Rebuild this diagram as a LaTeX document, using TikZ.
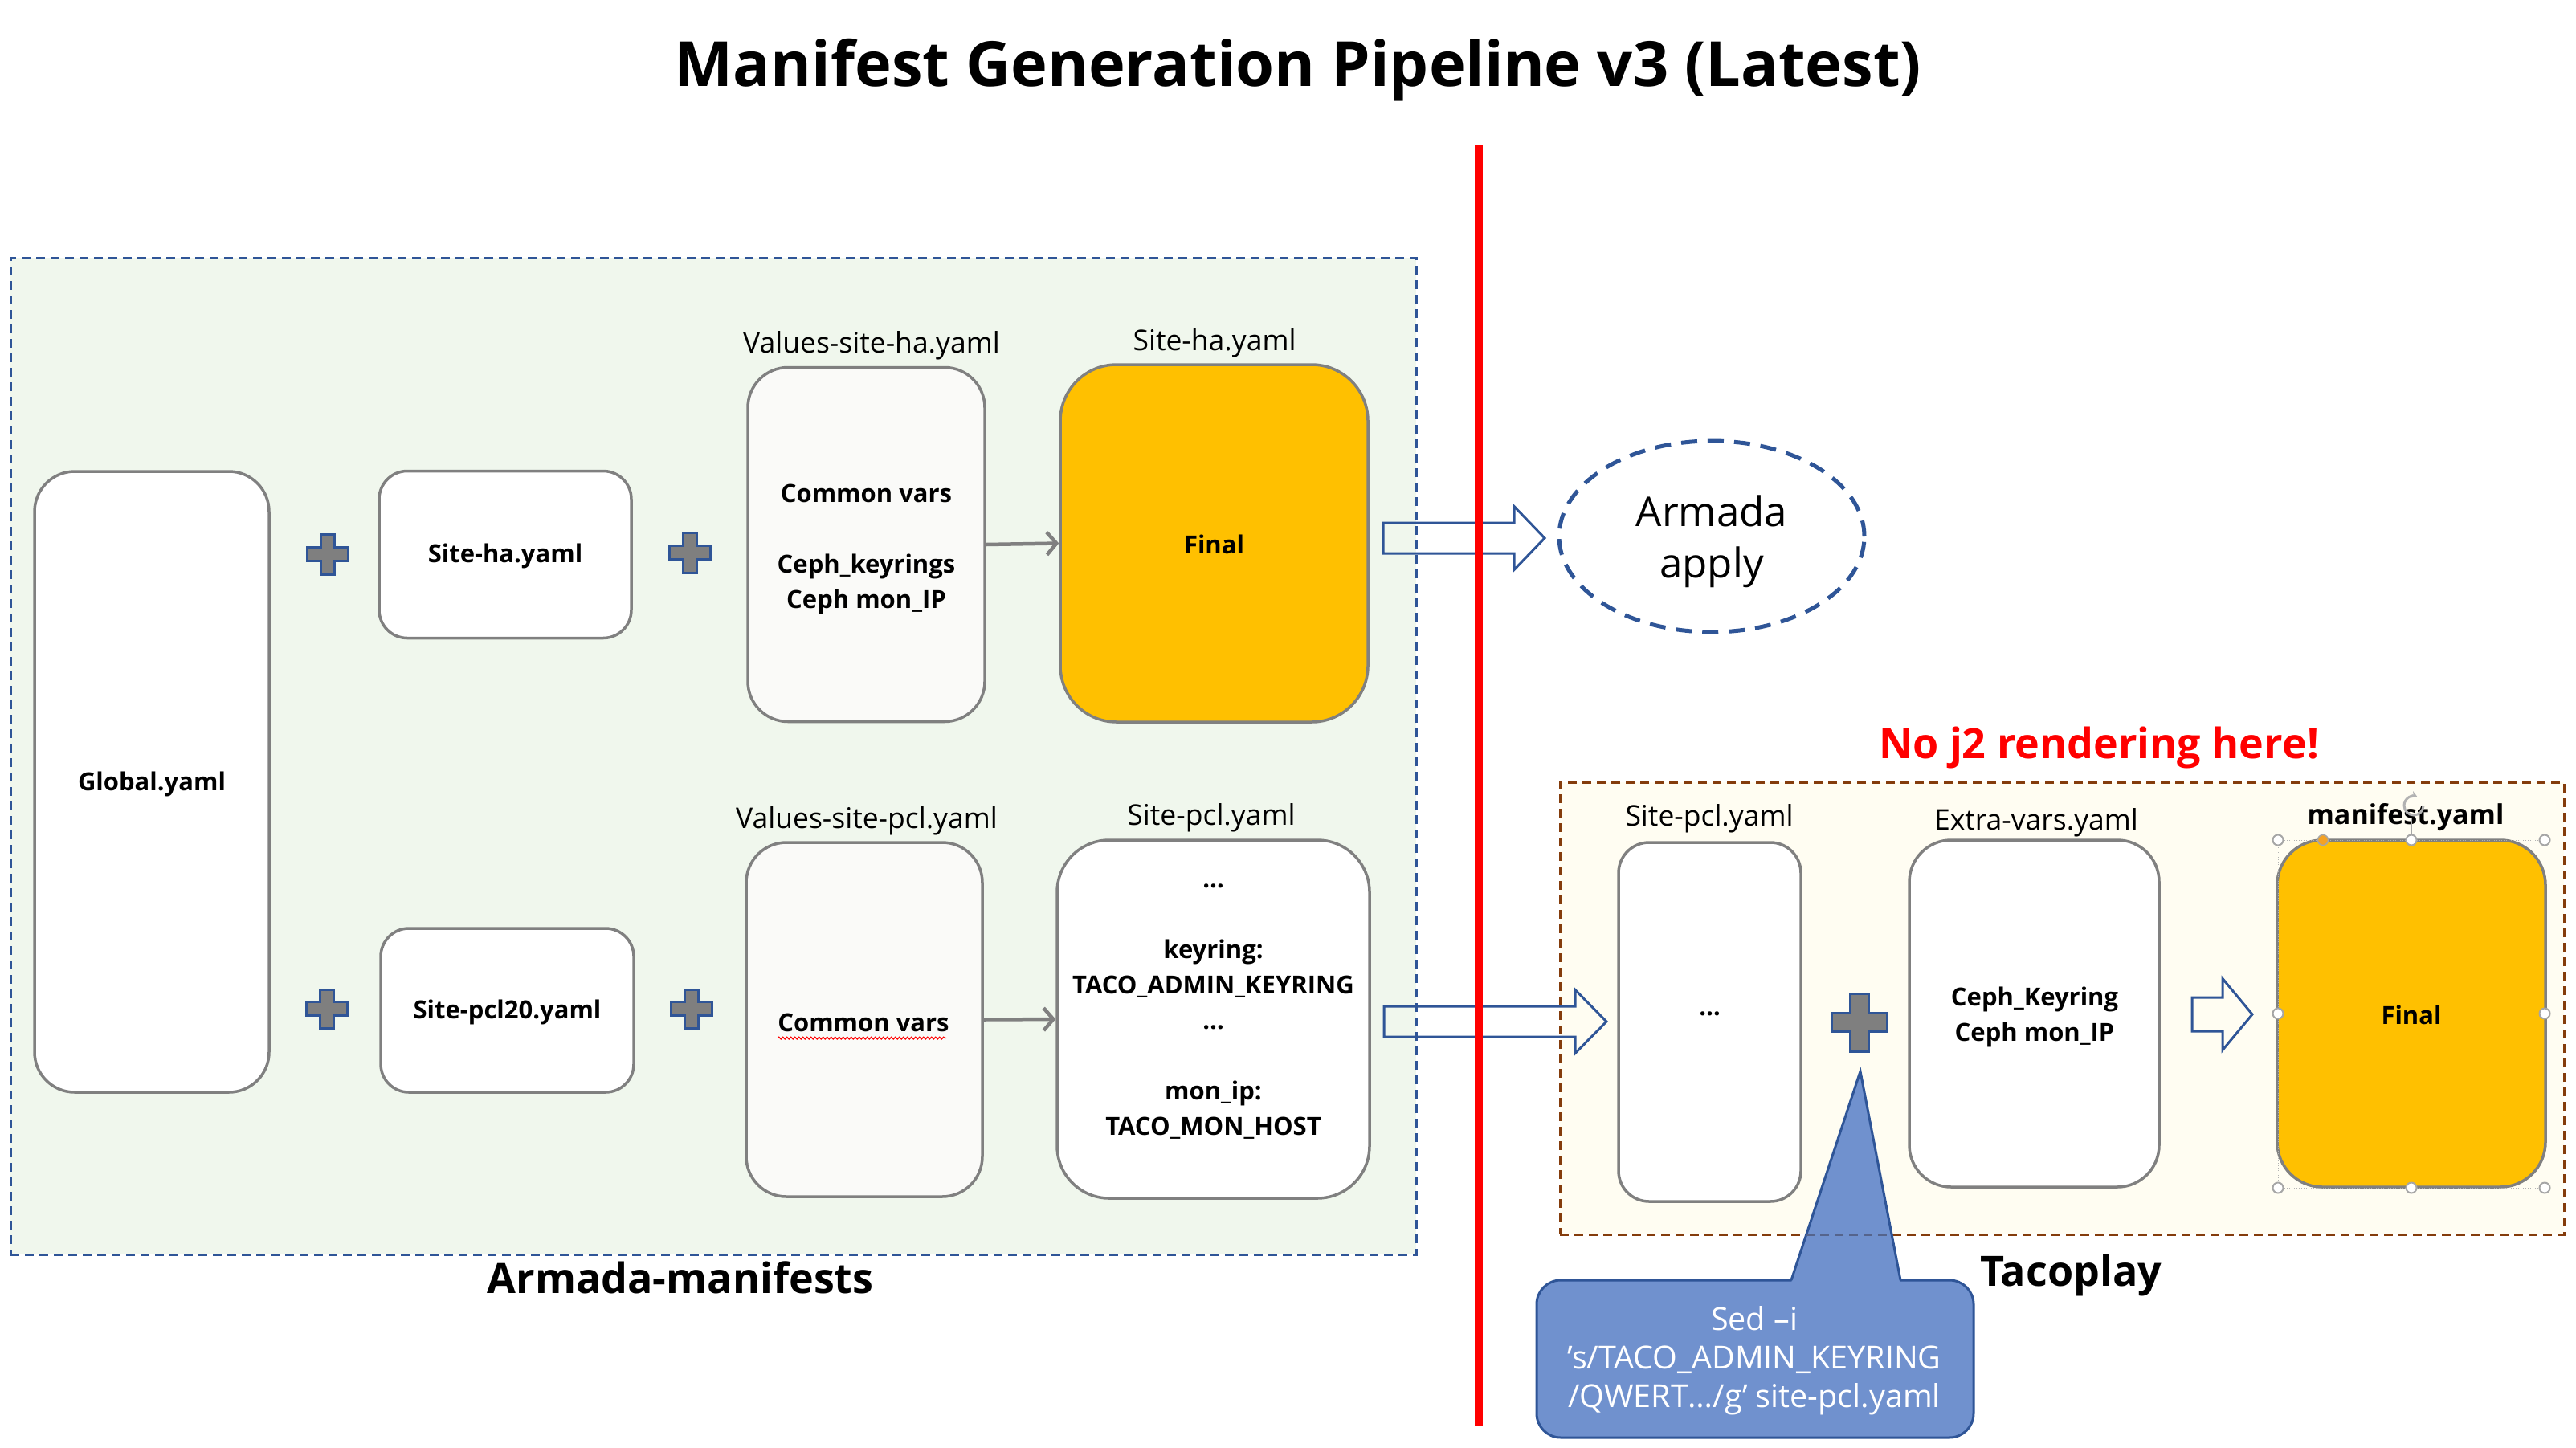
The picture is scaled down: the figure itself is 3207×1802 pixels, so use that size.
\documentclass[tikz,border=0pt]{standalone}
\usepackage{fontspec}
\setmainfont{Open Sans}
\usetikzlibrary{arrows.meta,decorations.pathmorphing,shapes.geometric}
\definecolor{dblue}{HTML}{2F5597}
\definecolor{dbrown}{HTML}{843C0C}
\definecolor{boxgray}{HTML}{808080}
\definecolor{greenbg}{RGB}{240,247,237}
\definecolor{creambg}{RGB}{255,253,242}
\definecolor{valbg}{RGB}{250,250,248}
\definecolor{gold}{HTML}{FFC000}
\definecolor{callfill}{RGB}{112,145,206}
\definecolor{plusgray}{HTML}{7F7F7F}
\definecolor{mixdash}{RGB}{85,100,140}
\definecolor{handleorange}{HTML}{F4A223}
\newcommand{\drawPlus}[5]{% cx cy w h t
  \draw[plusstyle] ({#1-#5/2},{#2-#4/2}) -- ({#1+#5/2},{#2-#4/2}) -- ({#1+#5/2},{#2-#5/2}) -- ({#1+#3/2},{#2-#5/2}) -- ({#1+#3/2},{#2+#5/2}) -- ({#1+#5/2},{#2+#5/2}) -- ({#1+#5/2},{#2+#4/2}) -- ({#1-#5/2},{#2+#4/2}) -- ({#1-#5/2},{#2+#5/2}) -- ({#1-#3/2},{#2+#5/2}) -- ({#1-#3/2},{#2-#5/2}) -- ({#1-#5/2},{#2-#5/2}) -- cycle;}
\newcommand{\blockArrow}[6]{% x0 x1 tip cy hs hh
  \draw[blockstyle] (#1,{#4-#5}) -- (#2,{#4-#5}) -- (#2,{#4-#6}) -- (#3,#4) -- (#2,{#4+#6}) -- (#2,{#4+#5}) -- (#1,{#4+#5}) -- cycle;}
\begin{document}
\begin{tikzpicture}[x=1pt,y=-1pt,
  container/.style={rectangle, inner sep=0pt, outer sep=0pt, line width=3pt, dash pattern=on 11pt off 7pt},
  box/.style={rectangle, draw=boxgray, line width=3.5pt, fill=white, inner sep=0pt, rounded corners=#1},
  btxt/.style={font=\fontsize{31}{44}\selectfont\bfseries, align=center, inner sep=0pt},
  lbl/.style={font=\fontsize{35.5}{40}\selectfont, inner sep=0pt},
  plusstyle/.style={fill=plusgray, draw=dblue, line width=3pt, line join=miter},
  blockstyle/.style={draw=dblue, line width=3pt, line join=miter},
  garrow/.style={draw=boxgray, line width=4.5pt, -{Straight Barb[length=12pt,width=28pt,line width=4.5pt]}},
  handle/.style={draw=gray!70, fill=white, line width=2pt},
  bigbold/.style={font=\fontsize{52}{60}\selectfont\bfseries, inner sep=0pt}
]
\useasboundingbox (0,0) rectangle (3207,1802);
\fill[white] (0,0) rectangle (3207,1802);

% title
\node[font=\fontsize{77.5}{88}\selectfont\bfseries, inner sep=0pt] (title) at (1616,87) {Manifest Generation Pipeline v3 (Latest)};

% containers
\node[container, fill=greenbg, draw=dblue, minimum width=1750pt, minimum height=1241pt] (armada) at (888,941.5) {};
\node[container, fill=creambg, draw=dbrown, minimum width=1250pt, minimum height=563pt] (taco) at (2567,1255.5) {};
\node[bigbold] (armlbl) at (847,1591) {Armada-manifests};
\node[bigbold] (tacolbl) at (2578,1588) {Tacoplay};
\node[bigbold, text=red] (nojlbl) at (2613,931) {No j2 rendering here!};

% left column
\node[box=50pt, minimum width=292pt, minimum height=773pt] (glob) at (189,973.5) {};
\node[btxt] at (189,976) {Global.yaml};
\node[box=35pt, minimum width=314pt, minimum height=208pt] (siteha) at (629,690.5) {};
\node[btxt] at (629,692) {Site-ha.yaml};
\node[box=35pt, minimum width=315pt, minimum height=204pt] (sitepcltw) at (631.5,1258) {};
\node[btxt] at (631.5,1260) {Site-pcl20.yaml};

% values boxes
\node[box=50pt, fill=valbg, minimum width=295pt, minimum height=441pt] (valha) at (1078.5,678) {};
\node[btxt] at (1078.5,684) {Common vars\\[44pt]Ceph\_keyrings\\Ceph mon\_IP};
\node[lbl] (valhalbl) at (1085,430) {Values-site-ha.yaml};
\node[box=50pt, fill=valbg, minimum width=294pt, minimum height=441pt] (valpcl) at (1076,1269.5) {};
\node[btxt] (cvpcl) at (1075,1273) {Common vars};
\draw[red, line width=1.3pt, decorate, decoration={snake, amplitude=1.3pt, segment length=5pt}] (cvpcl.south west) ++(0,8) -- ++(210,0);
\node[lbl] (valpcllbl) at (1079,1022) {Values-site-pcl.yaml};

% final / site-pcl boxes
\node[box=70pt, fill=gold, minimum width=383pt, minimum height=445pt] (finha) at (1511.5,676.5) {};
\node[btxt] at (1511.5,678) {Final};
\node[lbl] (finhalbl) at (1512,427) {Site-ha.yaml};
\node[box=65pt, minimum width=389pt, minimum height=446pt] (sitepcl) at (1510.5,1269) {};
\node[btxt] at (1510.5,1260) {…\\[44pt]keyring:\\TACO\_ADMIN\_KEYRING\\…\\[44pt]mon\_ip:\\TACO\_MON\_HOST};
\node[lbl] (sitepcllbl) at (1508,1018) {Site-pcl.yaml};

% pluses
\drawPlus{408}{690}{51}{50}{17}
\drawPlus{859}{688}{51}{50}{17}
\drawPlus{407}{1256}{51}{48}{17}
\drawPlus{861}{1256}{51}{48}{17}

% gray arrows
\draw[garrow] (valha.east) -- (finha.west);
\draw[garrow] (valpcl.east) -- (sitepcl.west);

% tacoplay boxes
\node[box=38pt, minimum width=227pt, minimum height=447pt] (tsite) at (2128.5,1272.5) {};
\node[btxt] at (2128.5,1262) {…};
\node[lbl] (tsitelbl) at (2128,1019) {Site-pcl.yaml};
\node[box=52pt, minimum width=311pt, minimum height=432pt] (extra) at (2532.5,1262) {};
\node[btxt] at (2533,1266) {Ceph\_Keyring\\Ceph mon\_IP};
\node[lbl] (extralbl) at (2535,1024) {Extra-vars.yaml};
\node[box=56pt, fill=gold, minimum width=334pt, minimum height=432pt] (mani) at (3002,1262) {};
\node[btxt] at (3002,1264) {Final};
\node[font=\fontsize{34}{40}\selectfont\bfseries, inner sep=0pt] (manilbl) at (2995,1018) {manifest.yaml};
\drawPlus{2315}{1273}{69}{72}{23}

% selection handles on manifest box
\draw[gray!60, line width=1pt, dotted] (2836,1046) rectangle (3168,1479);
\draw[gray!70, line width=1.5pt] (3002,1040) -- (3002,1018);
\draw[gray!60, line width=3pt, -{Stealth[length=7pt,width=9pt]}] (3017,1003) arc[start angle=0, end angle=290, radius=12];
\foreach \hx/\hy in {2836/1046,3002/1046,3168/1046,2836/1262,3168/1262,2836/1479,3002/1479,3168/1479}
  \draw[handle] (\hx,\hy) circle[radius=6.5];
\draw[draw=gray!70, fill=handleorange, line width=1.5pt] (2892,1046) circle[radius=6.5];

% block arrows
\blockArrow{1722}{1885}{1923}{670}{19}{39.5}
\blockArrow{1723}{1961}{2000}{1272}{19}{39.5}
\blockArrow{2729}{2767}{2804}{1263}{21}{44.5}

% red separator
\draw[red, line width=10pt] (1841,180) -- (1841,1775);

% ellipse
\node[ellipse, draw=dblue, line width=5pt, dash pattern=on 20pt off 13pt, minimum width=380pt, minimum height=238pt, inner sep=0pt] (apply) at (2131,668) {};
\node[font=\fontsize{51}{64}\selectfont, align=center, inner sep=0pt] at (2131,674) {Armada\\apply};

% callout
\node[rectangle, rounded corners=30pt, fill=callfill, draw=dblue, line width=3pt, minimum width=544pt, minimum height=196pt, inner sep=0pt] (sed) at (2185,1692) {};
\coordinate (tip) at (2316,1334);
\fill[callfill] (2230,1597) -- (tip) -- (2366,1597) -- cycle;
\draw[dblue, line width=3pt, line join=miter] (2230,1594) -- (tip) -- (2366,1594);
\begin{scope}
  \clip (2232,1590) -- (tip) -- (2364,1590) -- cycle;
  \draw[mixdash, line width=3pt, dash pattern=on 11pt off 7pt] (1942,1537) -- (3192,1537);
\end{scope}
\node[font=\fontsize{39.5}{48}\selectfont, text=white, align=center, inner sep=0pt] at (2184,1694) {Sed –i\\’s/TACO\_ADMIN\_KEYRING\\/QWERT…/g’ site-pcl.yaml};
\end{tikzpicture}
\end{document}
